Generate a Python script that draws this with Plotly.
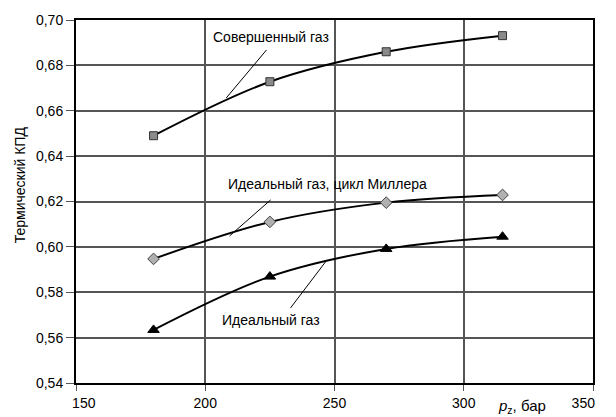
import plotly.graph_objects as go

pressure = [180, 225, 270, 315]
perfect_gas = [0.649, 0.6728, 0.686, 0.6931]
ideal_miller = [0.5947, 0.611, 0.6195, 0.6229]
ideal_gas = [0.5634, 0.5869, 0.5991, 0.6045]

x_ticks = [150, 200, 250, 300, 350]
x_ticktext = ["\u00a0\u00a0\u00a0\u00a0150", "200", "250", "300", "350\u00a0\u00a0\u00a0\u00a0\u00a0"]
y_ticks = [0.54, 0.56, 0.58, 0.60, 0.62, 0.64, 0.66, 0.68, 0.70]

FONT = "Liberation Sans, Arial, sans-serif"

fig = go.Figure()
fig.add_trace(go.Scatter(x=pressure, y=perfect_gas, mode="lines+markers", line=dict(color="black", width=2, shape="spline"),
                         marker=dict(symbol="square", size=8, color="#8a8a8a", line=dict(color="#333", width=1))))
fig.add_trace(go.Scatter(x=pressure, y=ideal_miller, mode="lines+markers", line=dict(color="black", width=2, shape="spline"),
                         marker=dict(symbol="diamond", size=9, color="#b0b0b0", line=dict(color="#444", width=1))))
fig.add_trace(go.Scatter(x=pressure, y=ideal_gas, mode="lines+markers", line=dict(color="black", width=2, shape="spline"),
                         marker=dict(symbol="triangle-up", size=10, color="black", line=dict(color="black", width=1))))

leaders = [
    ((223.7, 0.6868), (208.1, 0.6656)),
    ((225.3, 0.6207), (209.4, 0.6048)),
    ((233.0, 0.5731), (246.6, 0.5935)),
]
for (x0, y0), (x1, y1) in leaders:
    fig.add_shape(type="line", x0=x0, y0=y0, x1=x1, y1=y1, line=dict(color="black", width=1))

labels = [
    ("Совершенный газ", 225.6, 0.6926),
    ("Идеальный газ, цикл Миллера", 247.3, 0.6278),
    ("Идеальный газ", 225.6, 0.5678),
]
for txt, x, y in labels:
    fig.add_annotation(x=x, y=y, text=txt, showarrow=False, xanchor="center", yanchor="middle",
                       font=dict(family=FONT, size=14, color="black"))

fig.add_annotation(xref="paper", yref="paper", x=-0.108, y=0.545, text="Термический КПД", textangle=-90,
                   xanchor="center", yanchor="middle", showarrow=False, font=dict(family=FONT, size=14, color="black"))
fig.add_annotation(xref="paper", yref="paper", x=0.8625, y=-0.066, text="<i>p</i><sub>z</sub>, бар",
                   xanchor="center", yanchor="middle", showarrow=False, font=dict(family=FONT, size=15, color="black"))

fig.update_xaxes(range=[150, 350], tickvals=x_ticks, ticktext=x_ticktext, showgrid=True, gridcolor="#555", gridwidth=1.5,
                 showline=True, linecolor="black", linewidth=2, mirror=True, ticks="outside", ticklen=6,
                 tickcolor="#555", zeroline=False, ticklabeloverflow="allow",
                 tickfont=dict(family=FONT, size=14, color="black"))
fig.update_yaxes(range=[0.54, 0.70], tickvals=y_ticks, tickformat=".2f", showgrid=True, gridcolor="#555", gridwidth=1.5,
                 showline=True, linecolor="black", linewidth=2, mirror=True, ticks="outside", ticklen=8,
                 tickcolor="#555", zeroline=False, tickfont=dict(family=FONT, size=14, color="black"))

fig.update_layout(width=616, height=417, margin=dict(l=76, r=2, t=20, b=34), showlegend=False,
                  plot_bgcolor="white", paper_bgcolor="white", separators=", ")
fig.write_html("out.html")
